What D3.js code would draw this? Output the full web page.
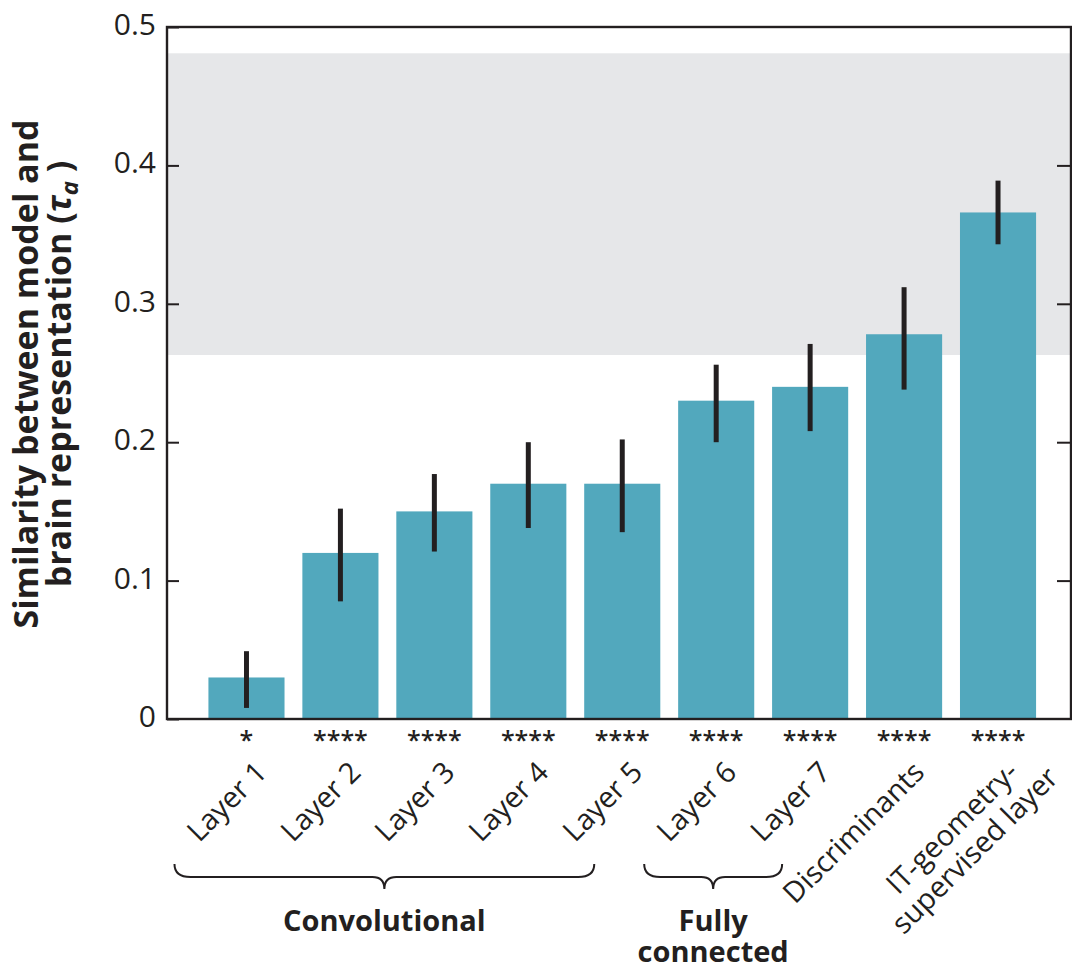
<!DOCTYPE html>
<html><head><meta charset="utf-8">
<script src="https://cdn.jsdelivr.net/npm/d3@7"></script>
<style>body{margin:0;background:#fff}svg{display:block;font-family:"Open Sans",sans-serif}</style>
</head><body><svg id="c" width="1072" height="971"></svg>
<script>
const categories = ["Layer 1","Layer 2","Layer 3","Layer 4","Layer 5","Layer 6","Layer 7","Discriminants","IT-geometry-\nsupervised layer"];
const values = [0.030,0.120,0.150,0.170,0.170,0.230,0.240,0.278,0.366];
const errLow = [0.008,0.085,0.121,0.138,0.135,0.200,0.208,0.238,0.343];
const errHigh = [0.049,0.152,0.177,0.200,0.202,0.256,0.271,0.312,0.389];
const stars = ["*","****","****","****","****","****","****","****","****"];
const yTicks = [0,0.1,0.2,0.3,0.4,0.5];
const yTickLabels = ["0","0.1","0.2","0.3","0.4","0.5"];
const ceilingBand = [0.263,0.481];
const groups = [{name:["Convolutional"],from:"Layer 1",to:"Layer 5"},{name:["Fully","connected"],from:"Layer 6",to:"Layer 7"}];
const yTitle = ["Similarity between model and","brain representation ("];

const ink="#231f20", barColor="#52a8bd", bandColor="#e6e7e9";
const svg=d3.select("#c");
const L=167,R=1071,T=27,B=719;
const x=d3.scaleBand().domain(categories).range([199.5,1045]).paddingInner(0.19).paddingOuter(0.095);
const y=d3.scaleLinear().domain([0,0.5]).range([B,T]);

// ceiling band
svg.append("rect").attr("x",L).attr("width",R-L).attr("y",y(ceilingBand[1])).attr("height",y(ceilingBand[0])-y(ceilingBand[1])).attr("fill",bandColor);

// bars
svg.selectAll("rect.bar").data(categories).join("rect").attr("class","bar")
  .attr("x",d=>x(d)).attr("width",x.bandwidth())
  .attr("y",(d,i)=>y(values[i])).attr("height",(d,i)=>y(0)-y(values[i])).attr("fill",barColor);
// error bars
svg.selectAll("line.err").data(categories).join("line").attr("class","err")
  .attr("x1",d=>x(d)+x.bandwidth()/2).attr("x2",d=>x(d)+x.bandwidth()/2)
  .attr("y1",(d,i)=>y(errLow[i])).attr("y2",(d,i)=>y(errHigh[i]))
  .attr("stroke",ink).attr("stroke-width",5);

// axes
const yl=d3.axisLeft(y).tickValues(yTicks).tickFormat((d,i)=>yTickLabels[i]).tickSize(-12).tickPadding(11);
const gl=svg.append("g").attr("transform",`translate(${L},0)`).call(yl);
gl.select(".domain").remove();
gl.selectAll(".tick line").attr("stroke",ink).attr("stroke-width",2);
gl.selectAll(".tick text").attr("font-size",30).attr("fill",ink).attr("font-family","Open Sans").attr("dy","0.25em");
const yr=d3.axisRight(y).tickValues(yTicks.slice(1,5)).tickFormat("").tickSize(-14);
const gr=svg.append("g").attr("transform",`translate(${R},0)`).call(yr);
gr.select(".domain").remove();
gr.selectAll(".tick line").attr("stroke",ink).attr("stroke-width",2);
// frame
svg.append("rect").attr("x",L).attr("y",T).attr("width",R-L).attr("height",B-T).attr("fill","none").attr("stroke",ink).attr("stroke-width",2.4);

// stars
svg.selectAll("text.star").data(categories).join("text").attr("class","star")
  .attr("x",d=>x(d)+x.bandwidth()/2).attr("y",749).attr("text-anchor","middle")
  .attr("font-size",25).attr("font-weight","600").attr("fill",ink).text((d,i)=>stars[i]);

// category labels
categories.forEach((c,i)=>{
  const cx=x(c)+x.bandwidth()/2;
  const g=svg.append("g").attr("transform",`translate(${cx+22},774) rotate(-45)`);
  const lines=c.split("\n");
  const fs=29;
  if(lines.length===1){
    g.append("text").attr("text-anchor","end").attr("font-size",fs).attr("fill",ink).text(lines[0]);
  } else {
    const t1=g.append("text").attr("text-anchor","end").attr("font-size",fs).attr("fill",ink).text(lines[0]);
    const w1=t1.node().getComputedTextLength();
    t1.attr("text-anchor","middle").attr("x",-w1/2);
    g.append("text").attr("text-anchor","middle").attr("x",-w1/2).attr("y",32).attr("font-size",fs).attr("fill",ink).text(lines[1]);
  }
});

// group braces
groups.forEach(gr=>{
  const x0=x(gr.from)+x.bandwidth()/2-72, x1=x(gr.to)+x.bandwidth()/2-28, m=(x0+x1)/2;
  const yt=864, yh=877, yp=889;
  const p=`M${x0},${yt} Q${x0},${yh} ${x0+16},${yh} L${m-12},${yh} Q${m},${yh} ${m},${yp} Q${m},${yh} ${m+12},${yh} L${x1-16},${yh} Q${x1},${yh} ${x1},${yt}`;
  svg.append("path").attr("d",p).attr("fill","none").attr("stroke",ink).attr("stroke-width",2);
  gr.name.forEach((n,j)=>{
    svg.append("text").attr("x",m).attr("y",931+j*31).attr("text-anchor","middle")
      .attr("font-size",29).attr("font-weight","bold").attr("fill",ink).text(n);
  });
});

// y title
const yt=svg.append("g").attr("transform","translate(0,374) rotate(-90)");
yt.append("text").attr("x",0).attr("y",38).attr("text-anchor","middle").attr("font-size",34).attr("font-weight","bold").attr("fill",ink).text(yTitle[0]);
const t2=yt.append("text").attr("x",0).attr("y",71).attr("text-anchor","middle").attr("font-size",34).attr("font-weight","bold").attr("fill",ink);
t2.append("tspan").text(yTitle[1]);
t2.append("tspan").attr("font-style","italic").text("τ");
t2.append("tspan").attr("font-style","italic").attr("font-size",24).attr("dy",7).text("a");
t2.append("tspan").attr("dy",-7).text(" )");
</script></body></html>
